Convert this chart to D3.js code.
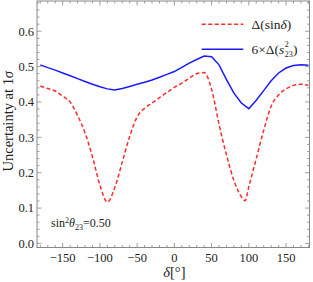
<!DOCTYPE html>
<html><head><meta charset="utf-8">
<script src="https://cdn.jsdelivr.net/npm/d3@7"></script>
<style>
html,body{margin:0;padding:0;background:#fff;}
svg{display:block;font-family:"Liberation Serif","DejaVu Serif",serif;}
</style></head>
<body>
<svg id="c" width="313" height="282"></svg>
<script>
const deltaRed = [-180,-170,-160,-150,-140,-130,-120,-110,-100,-90,-80,-70,-60,-50,-40,-30,-20,-10,0,10,20,30,40,50,60,70,80,90,95,100,110,120,130,140,150,160,170,180];
const sinDeltaErr = [0.445,0.438,0.431,0.416,0.400,0.362,0.313,0.245,0.165,0.117,0.158,0.230,0.303,0.358,0.382,0.397,0.412,0.427,0.441,0.453,0.467,0.480,0.483,0.436,0.337,0.250,0.178,0.132,0.121,0.160,0.240,0.320,0.388,0.420,0.437,0.447,0.450,0.447];
const deltaBlue = [-180,-170,-160,-150,-140,-130,-120,-110,-100,-90,-80,-70,-60,-50,-40,-30,-20,-10,0,10,20,30,40,50,60,70,80,90,100,110,120,130,140,150,160,170,180];
const s23Err6 = [0.505,0.497,0.490,0.482,0.474,0.466,0.458,0.450,0.443,0.437,0.434,0.438,0.444,0.450,0.456,0.462,0.470,0.478,0.486,0.498,0.510,0.520,0.530,0.528,0.505,0.463,0.425,0.397,0.381,0.405,0.432,0.460,0.482,0.496,0.503,0.505,0.504];
const xTicks = [-150,-100,-50,0,50,100,150];
const yTicks = [0.0,0.1,0.2,0.3,0.4,0.5,0.6];

const svg = d3.select("#c");
const L = 37, R = 309.5, T = 1, B = 247.5;
const x = d3.scaleLinear().domain([-184.5, 181.5]).range([L, R]);
const y = d3.scaleLinear().domain([-0.0115, 0.6855]).range([B, T]);
const frameCol = "#888";

// frame
svg.append("rect").attr("x", L).attr("y", T).attr("width", R - L).attr("height", B - T)
  .attr("fill", "none").attr("stroke", frameCol).attr("stroke-width", 1);

// ticks
const xMinor = d3.range(-180, 181, 10);
const yMinor = d3.range(0, 0.681, 0.02);
const tg = svg.append("g").attr("stroke", frameCol).attr("stroke-width", 0.8);
xMinor.forEach(v => {
  const major = v % 50 === 0;
  const len = major ? 4.5 : 2.5;
  tg.append("line").attr("x1", x(v)).attr("x2", x(v)).attr("y1", B).attr("y2", B - len);
  tg.append("line").attr("x1", x(v)).attr("x2", x(v)).attr("y1", T).attr("y2", T + len);
});
yMinor.forEach(v => {
  const major = Math.abs(Math.round(v * 10) - v * 10) < 1e-6;
  const len = major ? 4.5 : 2.5;
  tg.append("line").attr("y1", y(v)).attr("y2", y(v)).attr("x1", L).attr("x2", L + len);
  tg.append("line").attr("y1", y(v)).attr("y2", y(v)).attr("x1", R).attr("x2", R - len);
});

// tick labels
svg.append("g").selectAll("text").data(xTicks).join("text")
  .attr("x", d => x(d)).attr("y", 262).attr("text-anchor", "middle")
  .attr("font-size", 12.5).attr("fill", "#222")
  .text(d => d < 0 ? "\u2212" + Math.abs(d) : d);
svg.append("g").selectAll("text").data(yTicks).join("text")
  .attr("x", 34).attr("y", d => y(d) + 4.3).attr("text-anchor", "end")
  .attr("font-size", 12.5).attr("fill", "#222")
  .text(d => d.toFixed(1));

// axis labels
svg.append("text").attr("transform", `translate(13,${(T + B) / 2 - 3}) rotate(-90)`)
  .attr("text-anchor", "middle").attr("font-size", 14.5).attr("fill", "#222")
  .html('Uncertainty at 1<tspan font-style="italic">σ</tspan>');
svg.append("text").attr("x", x(0)).attr("y", 277).attr("text-anchor", "middle")
  .attr("font-size", 14.5).attr("fill", "#222")
  .html('<tspan font-style="italic">δ</tspan>[°]');

// curves
const lineRed = d3.line().x((d, i) => x(deltaRed[i])).y(d => y(d)).curve(d3.curveMonotoneX);
const lineBlue = d3.line().x((d, i) => x(deltaBlue[i])).y(d => y(d));
svg.append("path").attr("d", lineBlue(s23Err6)).attr("fill", "none")
  .attr("stroke", "#1a1aff").attr("stroke-width", 1.5);
svg.append("path").attr("d", lineRed(sinDeltaErr)).attr("fill", "none")
  .attr("stroke", "#ff2a2a").attr("stroke-width", 1.5).attr("stroke-dasharray", "4,2.5");

// legend
const lg = svg.append("g");
lg.append("line").attr("x1", 201.7).attr("x2", 243.3).attr("y1", 24.3).attr("y2", 24.3)
  .attr("stroke", "#ff2a2a").attr("stroke-width", 1.5).attr("stroke-dasharray", "4,2.5");
lg.append("line").attr("x1", 201.7).attr("x2", 243.3).attr("y1", 49.3).attr("y2", 49.3)
  .attr("stroke", "#1a1aff").attr("stroke-width", 1.5);
lg.append("text").attr("x", 251.5).attr("y", 29).attr("font-size", 13.5).attr("fill", "#222")
  .html('Δ(sin<tspan font-style="italic">δ</tspan>)');
const t2 = lg.append("text").attr("x", 251.5).attr("y", 54).attr("font-size", 13.5).attr("fill", "#222")
  .html('6×Δ(<tspan font-style="italic">s</tspan>');
const w2 = t2.node().getComputedTextLength();
lg.append("text").attr("x", 251.5 + w2 + 0.5).attr("y", 47.3).attr("font-size", 8).attr("fill", "#222").text("2");
const sub = lg.append("text").attr("x", 251.5 + w2 + 0.5).attr("y", 57.2).attr("font-size", 8).attr("fill", "#222").text("23");
const ws = sub.node().getComputedTextLength();
lg.append("text").attr("x", 251.5 + w2 + 0.5 + ws + 0.3).attr("y", 54).attr("font-size", 13.5).attr("fill", "#222").text(")");

// annotation
svg.append("text").attr("x", 51).attr("y", 227).attr("font-size", 12).attr("fill", "#222")
  .html('sin<tspan font-size="8" dy="-4.5">2</tspan><tspan font-style="italic" dy="4.5">θ</tspan><tspan font-size="8" dy="3">23</tspan><tspan dy="-3">=0.50</tspan>');
</script>
</body></html>
